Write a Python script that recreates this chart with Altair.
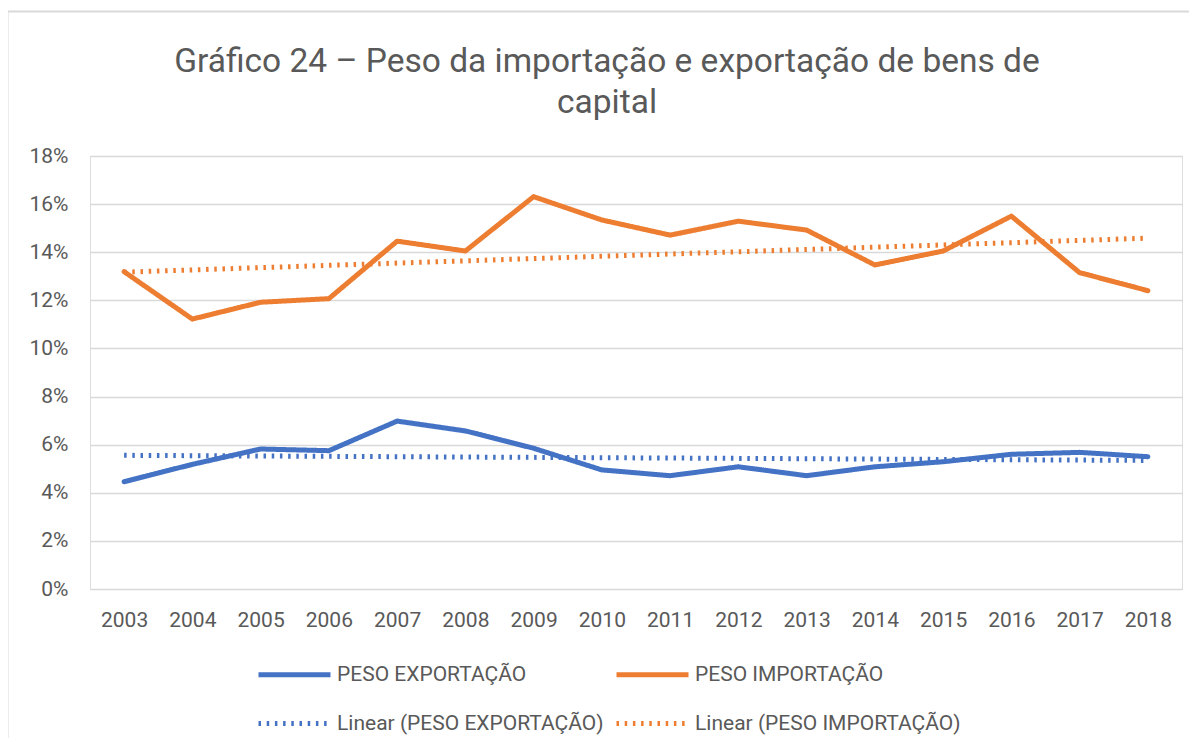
import altair as alt
import pandas as pd

years = list(range(2003, 2019))
peso_exportacao = [4.46, 5.18, 5.82, 5.75, 6.98, 6.57, 5.85, 4.95, 4.71, 5.08, 4.71, 5.08, 5.29, 5.60, 5.68, 5.50]
peso_importacao = [13.19, 11.22, 11.92, 12.07, 14.46, 14.05, 16.31, 15.34, 14.71, 15.29, 14.92, 13.47, 14.05, 15.50, 13.15, 12.40]

series_names = ["PESO EXPORTAÇÃO", "PESO IMPORTAÇÃO"]
legend_order = ["PESO EXPORTAÇÃO", "PESO IMPORTAÇÃO",
                "Linear (PESO EXPORTAÇÃO)", "Linear (PESO IMPORTAÇÃO)"]
y_ticks = [0, 2, 4, 6, 8, 10, 12, 14, 16, 18]
title_text = "Gráfico 24 – Peso da importação e exportação de bens de\ncapital"

rows = []
for y, e, i in zip(years, peso_exportacao, peso_importacao):
    rows.append({"ano": y, "valor": e, "serie": series_names[0]})
    rows.append({"ano": y, "valor": i, "serie": series_names[1]})
df = pd.DataFrame(rows)
title_df = pd.DataFrame({"titulo": [title_text]})

BLUE = "#4472C4"
ORANGE = "#ED7D31"
TXT = "#595959"
GRID = "#D9D9D9"

color = alt.Color("serie:N", scale=alt.Scale(domain=legend_order, range=[BLUE, ORANGE, BLUE, ORANGE]),
                  legend=alt.Legend(title=None, orient="none", legendX=166, legendY=480,
                                    direction="horizontal", columns=2, symbolType="stroke",
                                    symbolSize=5184, labelFontSize=21, labelColor=TXT,
                                    labelFont="Roboto", labelOffset=4, columnPadding=2,
                                    rowPadding=-27, padding=0, labelLimit=400))
dash = alt.StrokeDash("serie:N", scale=alt.Scale(domain=legend_order,
                      range=[[1, 0], [1, 0], [2.5, 5.7], [2.5, 5.7]]), legend=None)
width_enc = alt.StrokeWidth("serie:N", scale=alt.Scale(domain=legend_order, range=[5, 5, 2.7, 2.7]),
                            legend=None)

x = alt.X("ano:Q", scale=alt.Scale(domain=[2002.5, 2018.5], nice=False, zero=False),
          axis=alt.Axis(title=None, values=years, format="d", grid=False, domain=False, ticks=False,
                        labelFontSize=21, labelColor=TXT, labelFont="Roboto", labelPadding=20,
                        labelFlush=False))
y = alt.Y("valor:Q", scale=alt.Scale(domain=[0, 18], nice=False),
          axis=alt.Axis(title=None, values=y_ticks, labelExpr="datum.value + '%'", grid=True,
                        gridColor=GRID, gridWidth=1.5, domain=False, ticks=False,
                        labelFontSize=21, labelColor=TXT, labelFont="Roboto", labelPadding=22))

base = alt.Chart(df)

lines = base.mark_line(strokeCap="round", strokeJoin="round").encode(
    x=x, y=y, color=color, strokeDash=dash, strokeWidth=width_enc)

trend = base.transform_regression("ano", "valor", groupby=["serie"]).transform_calculate(
    serie="'Linear (' + datum.serie + ')'"
).mark_line().encode(x=x, y=y, color=color, strokeDash=dash, strokeWidth=width_enc)

border_left = alt.Chart(title_df).mark_rule(color=GRID, strokeWidth=2).encode(
    x=alt.value(-82.5), x2=alt.value(-82.5), y=alt.value(-145), y2=alt.value(640))
border_top = alt.Chart(title_df).mark_rule(color=GRID, strokeWidth=2).encode(
    x=alt.value(-83), x2=alt.value(1200), y=alt.value(-144.5), y2=alt.value(-144.5))

title = alt.Chart(title_df).mark_text(
    font="Roboto", fontSize=33.5, color=TXT, align="center", baseline="alphabetic",
    lineBreak="\n", lineHeight=41
).encode(text="titulo:N", x=alt.value(517), y=alt.value(-84))

chart = alt.layer(border_left, border_top, title, lines, trend).properties(
    width=1092, height=433,
    autosize=alt.AutoSizeParams(type="none"),
    padding={"left": 82, "top": 148, "right": 7, "bottom": 149},
).configure_view(stroke=None).configure(background="white")

chart.save("out.html", embed_options={"renderer": "svg", "actions": False})
